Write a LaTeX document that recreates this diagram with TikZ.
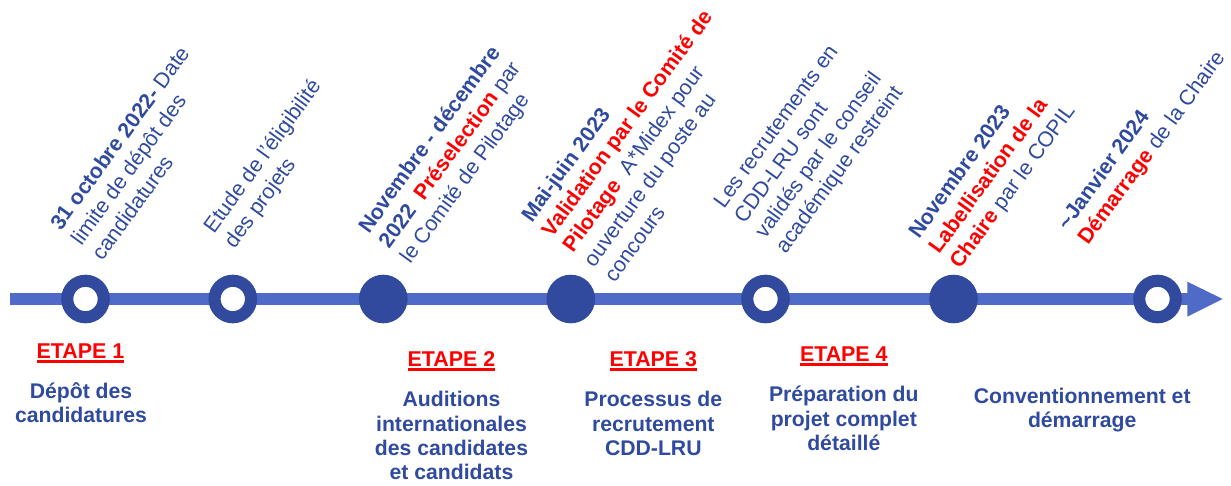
\documentclass[tikz,border=0pt]{standalone}
\usepackage{fontspec}
\setmainfont{Liberation Sans}
\definecolor{tblue}{RGB}{47,74,158}
\definecolor{cblue}{RGB}{49,74,157}
\definecolor{lblue}{RGB}{79,106,199}
\definecolor{tred}{RGB}{255,0,0}
\newcommand\redb[1]{{\color{tred}\bfseries #1}}
\newcommand\blub[1]{{\bfseries #1}}
\begin{document}
\begin{tikzpicture}[x=1pt,y=-1pt,
  rot/.style={rotate=54, anchor=base west, inner sep=0pt, outer sep=0pt, text=tblue, font=\fontsize{21.4}{25.5}\selectfont},
  desc/.style={anchor=base, inner sep=0pt, outer sep=0pt, text=tblue, font=\fontsize{21.2}{24.3}\selectfont\bfseries},
  stage/.style={anchor=base, inner sep=0pt, outer sep=0pt, text=tred, font=\fontsize{21.4}{24}\selectfont\bfseries},
  ring/.style={circle, draw=cblue, line width=12.1pt, fill=white, minimum size=36.5pt, inner sep=0pt},
  dot/.style={circle, fill=cblue, minimum size=48.6pt, inner sep=0pt},
  timeline/.style={draw=lblue, line width=11.7pt},
  uline/.style={draw=tred, line width=2.6pt}
]
\useasboundingbox (0,0) rectangle (1231,485);

% timeline
\coordinate (tstart) at (10,299);
\coordinate (tend) at (1188,299);
\coordinate (ttip) at (1222.7,299);
\draw[timeline] (tstart) -- (tend);
\fill[lblue] (1187.3,281.7) -- (ttip) -- (1187.3,316.7) -- cycle;

% milestones
\node[ring] (c1) at (85.5,299) {};
\node[ring] (c2) at (232.8,299) {};
\node[dot]  (c3) at (383.3,299) {};
\node[dot]  (c4) at (570.8,299) {};
\node[ring] (c5) at (765.5,299) {};
\node[dot]  (c6) at (953.5,299) {};
\node[ring] (c7) at (1157.5,299) {};

% rotated texts
\node[rot] (b1) at (61,231.5) {\begin{tabular}[t]{@{}l@{}}\blub{31 octobre 2022-} Date\\ limite de dépôt des\\ candidatures\end{tabular}};
\node[rot] (b2) at (214,234.5) {\begin{tabular}[t]{@{}l@{}}Etude de l’éligibilité\\ des projets\end{tabular}};
\node[rot] (b3) at (369,234.5) {\begin{tabular}[t]{@{}l@{}}\blub{Novembre - décembre}\\ \blub{2022}\ \ \redb{Préselection} par\\ le Comité de Pilotage\end{tabular}};
\node[rot] (b4) at (532.3,223.2) {\begin{tabular}[t]{@{}l@{}}\blub{Mai-juin 2023}\\ \redb{Validation par le Comité de}\\ \redb{Pilotage}\ \ A*Midex pour\\ ouverture du poste au\\ concours\end{tabular}};
\node[rot] (b5) at (724,209.5) {\begin{tabular}[t]{@{}l@{}}Les recrutements en\\ CDD-LRU sont\\ validés par le conseil\\ académique restreint\end{tabular}};
\node[rot] (b6) at (919,239.8) {\begin{tabular}[t]{@{}l@{}}\blub{Novembre 2023}\\ \redb{Labellisation de la}\\ \redb{Chaire} par le COPIL\end{tabular}};
\node[rot] (b7) at (1068,231) {\begin{tabular}[t]{@{}l@{}}\blub{\textasciitilde Janvier 2024}\\ \redb{Démarrage} de la Chaire\end{tabular}};

% stages
\node[stage] (e1) at (80.5,358.3) {ETAPE 1};
\node[stage] (e2) at (451.5,366.7) {ETAPE 2};
\node[stage] (e3) at (653.3,366.7) {ETAPE 3};
\node[stage] (e4) at (843.8,361.7) {ETAPE 4};
\foreach \e in {e1,e2,e3,e4}{
  \draw[uline] ([yshift=-3pt]\e.base west) -- ([yshift=-3pt]\e.base east);
}

% descriptions
\node[desc] (d1) at (81,398.3) {\begin{tabular}[t]{@{}c@{}}Dépôt des\\ candidatures\end{tabular}};
\node[desc] (d2) at (451.5,406.7) {\begin{tabular}[t]{@{}c@{}}Auditions\\ internationales\\ des candidates\\ et candidats\end{tabular}};
\node[desc] (d3) at (653.3,406.7) {\begin{tabular}[t]{@{}c@{}}Processus de\\ recrutement\\ CDD-LRU\end{tabular}};
\node[desc] (d4) at (843.8,401.7) {\begin{tabular}[t]{@{}c@{}}Préparation du\\ projet complet\\ détaillé\end{tabular}};
\node[desc] (d5) at (1082.2,403.3) {\begin{tabular}[t]{@{}c@{}}Conventionnement et\\ démarrage\end{tabular}};
\end{tikzpicture}
\end{document}
